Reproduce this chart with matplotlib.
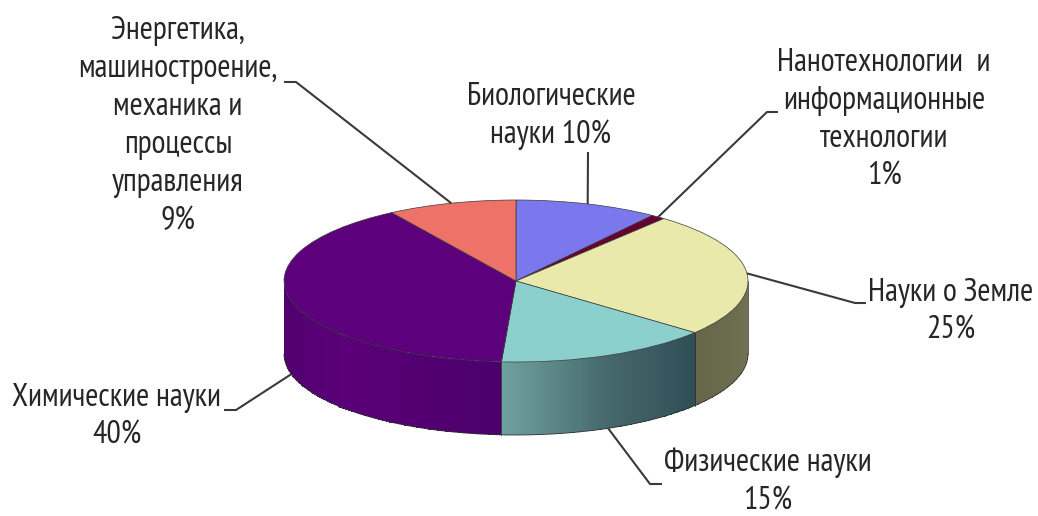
#!/usr/bin/env python3
"""3D-style pie chart of research areas, drawn on a squashed pie axes."""

import matplotlib

matplotlib.use("Agg")
import matplotlib.pyplot as plt
import numpy as np
from matplotlib.colors import LinearSegmentedColormap

W, H = 1038, 516

labels = [
    "Биологические\nнауки 10%",
    "Нанотехнологии  и\nинформационные\nтехнологии\n1%",
    "Науки о Земле\n25%",
    "Физические науки\n15%",
    "Химические науки\n40%",
    "Энергетика,\nмашиностроение,\nмеханика и\nпроцессы\nуправления\n9%",
]
values = [10, 1, 25, 15, 40, 9]
top_colors = ["#7b78ee", "#660033", "#e9e9ab", "#8bd0cc", "#5c007c", "#ee7268"]
# side wall colours, from the right of the slice to its left
wall_colors = [
    ["#4a4a90", "#4a4a90"],
    ["#400020", "#400020"],
    ["#737355", "#66664a"],
    ["#2f4d55", "#45686c", "#6fa0a0"],
    ["#4c006c", "#5a0078", "#4e006c"],
    ["#904040", "#904040"],
]

# pie centre and radii in image pixels
CX, CY, RX, RY = 516, 281, 232, 81
DEPTH = 73 / RY

plt.rcParams["font.family"] = ["PT Sans Narrow", "Roboto Condensed", "Liberation Sans", "DejaVu Sans"]

fig = plt.figure(figsize=(W / 100, H / 100), dpi=100, facecolor="white")
ax = fig.add_axes([0, 0, 1, 1])

ax.pie(
    values,
    colors=top_colors,
    startangle=90,
    counterclock=False,
    radius=1,
    wedgeprops={"edgecolor": "#3a3a3a", "linewidth": 0.5, "zorder": 3},
)
ax.set_aspect("auto")
ax.set_xlim(-CX / RX, (W - CX) / RX)
ax.set_ylim(-(H - CY) / RY, CY / RY)
ax.axis("off")

# slice edges as angles clockwise from the top
edges = np.deg2rad(np.concatenate([[0], np.cumsum(values)]) / sum(values) * 360)
mids = (edges[:-1] + edges[1:]) / 2

# side wall: only the front half of the cylinder is seen
for a, b, stops in zip(edges[:-1], edges[1:], wall_colors):
    a, b = max(a, np.pi / 2), min(b, 3 * np.pi / 2)
    if a >= b:
        continue
    t = np.linspace(a, b, 80)
    x = np.sin(t)
    y = np.cos(t)
    xx = np.vstack([x, x])
    yy = np.vstack([y - DEPTH, y])
    cmap = LinearSegmentedColormap.from_list("wall", stops)
    ax.pcolormesh(xx, yy, np.linspace(0, 1, 79)[None, :], cmap=cmap, shading="flat",
                  zorder=1, rasterized=True)
    ax.plot([x[0], x[0]], [y[0], y[0] - DEPTH], color="#222222", lw=0.5, zorder=2)

t = np.linspace(np.pi / 2, 3 * np.pi / 2, 200)
ax.plot(np.sin(t), np.cos(t) - DEPTH, color="#333333", lw=0.6, zorder=2)


def px(x, y):
    """Image pixel to data coordinates."""
    return (x - CX) / RX, (CY - y) / RY


# leader lines start on the slice middle; wall slices start on the lower edge
elbows = [
    [(588, 152)],
    [(767, 112), (778, 112)],
    [(855, 303), (866, 303)],
    [(650, 484), (662, 484)],
    [(236, 410), (224, 410)],
    [(296, 82), (284, 82)],
]
for mid, pts in zip(mids, elbows):
    sx, sy = np.sin(mid), np.cos(mid)
    if sy < 0 or (sx < -0.9):
        sy -= DEPTH
    xs, ys = zip(*[(sx, sy)] + [px(*p) for p in pts])
    ax.plot(xs, ys, color="#3a3a3a", lw=1.5, zorder=4, solid_capstyle="butt")

label_pos = [(551, 116), (884, 120), (951, 312), (768, 482), (117, 417), (178, 126)]
for text, (lx, ly) in zip(labels, label_pos):
    ax.text(*px(lx, ly), text, ha="center", va="center", multialignment="center",
            fontsize=23, linespacing=1.34, color="#262626", zorder=5)

fig.savefig("out.png", dpi=100)
plt.close(fig)
